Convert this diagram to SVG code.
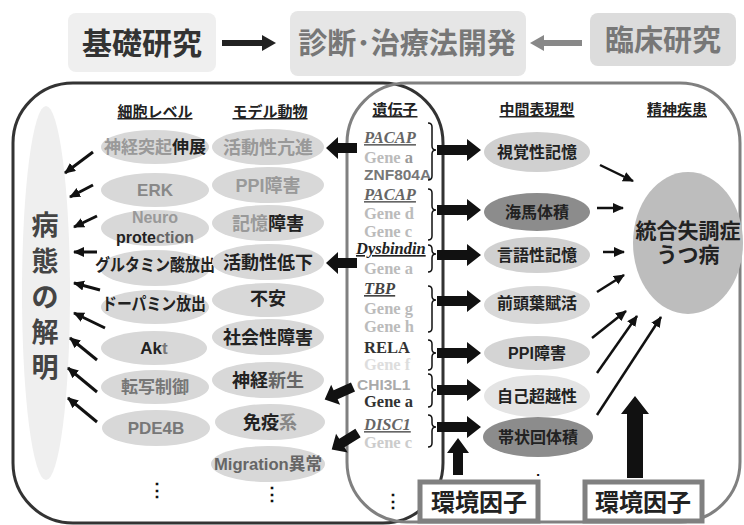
<svg xmlns="http://www.w3.org/2000/svg" xmlns:xlink="http://www.w3.org/1999/xlink" width="744" height="525" viewBox="0 0 744 525">
<style>
.t{font-family:'Liberation Sans','Noto Sans CJK JP',sans-serif;font-weight:bold;text-anchor:middle}
.g{font-family:'Liberation Serif','Noto Sans CJK JP',serif;font-weight:bold;font-size:16.5px}
.gs{font-family:'Liberation Sans',sans-serif;font-weight:bold;font-size:15.5px}
.it{font-style:italic;text-decoration:underline}
.hd{font-size:15px;fill:#222;text-decoration:underline}
.c1{font-size:17px}
.c2{font-size:18px}
.ph{font-size:16px;fill:#222}
.el{fill:#d8d8d8}
.thin{stroke:#111;stroke-width:3;fill:none}
.thin2{stroke:#111;stroke-width:2.5;fill:none}
.brace{stroke:#111;stroke-width:1.5;fill:none}
.blk{fill:#111}
.box{fill:#fff;stroke:#808080;stroke-width:5}
</style>
<defs>
<marker id="ah" markerUnits="userSpaceOnUse" markerWidth="12" markerHeight="12" refX="10" refY="5" orient="auto">
<path d="M0,0 L11,5 L0,10 Z" fill="#111"/>
</marker>
<path id="rarrow" d="M0,-5 H30 V-11 L44,0 L30,11 V5 H0 Z"/>
<path id="larrow" d="M0,-5 H-19 V-11 L-31,0 L-19,11 V5 H0 Z"/>
</defs>
<rect width="744" height="525" fill="#fff"/>

<!-- header -->
<g id="basic">
<rect x="68" y="13" width="148" height="59" rx="8" fill="#efefef"/>
<text class="t" x="142" y="54" font-size="30" fill="#333">基礎研究</text>
</g>
<g id="diag">
<rect x="290" y="11" width="236" height="65" rx="8" fill="#e6e6e6"/>
<text class="t" x="407" y="54" font-size="29" fill="#777">診断･治療法開発</text>
</g>
<g id="clinical">
<rect x="590" y="13" width="146" height="53" rx="8" fill="#dcdcdc"/>
<text class="t" x="663" y="51" font-size="29" fill="#777">臨床研究</text>
</g>

<!-- big frames -->
<g id="frames">
<rect x="13" y="83" width="430" height="440" rx="60" fill="none" stroke="#333" stroke-width="3"/>
<rect x="347" y="83" width="393" height="439" rx="60" fill="none" stroke="#808080" stroke-width="3"/>
</g>

<g id="pathology">
<ellipse cx="46" cy="293" rx="24" ry="187" fill="#efefef"/>
<text class="t" font-size="27" fill="#444" x="45"><tspan x="45" y="235">病</tspan><tspan x="45" y="271">態</tspan><tspan x="45" y="307">の</tspan><tspan x="45" y="342">解</tspan><tspan x="45" y="377">明</tspan></text>
</g>

<!-- column headers -->
<g id="headers">
<text class="t hd" x="155" y="117">細胞レベル</text>
<text class="t hd" x="270" y="117">モデル動物</text>
<text class="t hd" x="395" y="115">遺伝子</text>
<text class="t hd" x="537" y="115">中間表現型</text>
<text class="t hd" x="677" y="115">精神疾患</text>
</g>

<!-- cell level -->
<g id="cell1"><ellipse class="el" cx="155" cy="147" rx="54" ry="17"/><text class="t c1" x="155" y="153"><tspan fill="#999">神経突起</tspan><tspan fill="#222">伸展</tspan></text></g>
<g id="cell2"><ellipse class="el" cx="155" cy="190" rx="54" ry="17"/><text class="t c1" x="155" y="196" fill="#888">ERK</text></g>
<g id="cell3"><ellipse class="el" cx="155" cy="228" rx="54" ry="18"/><text class="t" font-size="16" x="155" y="223" fill="#999">Neuro</text><text class="t" font-size="16" x="155" y="243"><tspan fill="#222">prote</tspan><tspan fill="#666">ction</tspan></text></g>
<g id="cell4"><ellipse class="el" cx="155" cy="268" rx="55" ry="18"/><text class="t c1" x="155" y="271" fill="#222" textLength="120" lengthAdjust="spacingAndGlyphs">グルタミン酸放出</text></g>
<g id="cell5"><ellipse class="el" cx="155" cy="307" rx="54" ry="17"/><text class="t c1" x="154" y="310" fill="#222" textLength="104" lengthAdjust="spacingAndGlyphs">ドーパミン放出</text></g>
<g id="cell6"><ellipse class="el" cx="154" cy="348" rx="53" ry="17"/><text class="t c1" x="154" y="354"><tspan fill="#222">Ak</tspan><tspan fill="#777">t</tspan></text></g>
<g id="cell7"><ellipse class="el" cx="155" cy="387" rx="54" ry="17"/><text class="t c1" x="155" y="393" fill="#777">転写制御</text></g>
<g id="cell8"><ellipse class="el" cx="156" cy="428" rx="54" ry="18"/><text class="t c1" x="156" y="434" fill="#777">PDE4B</text></g>
<text class="t" x="157" y="496" font-size="18" fill="#111" font-family="DejaVu Sans">⋮</text>

<!-- model animals -->
<g id="m1"><ellipse class="el" cx="268" cy="147" rx="56" ry="18"/><text class="t c2" x="268" y="154" fill="#999">活動性亢進</text></g>
<g id="m2"><ellipse class="el" cx="268" cy="185" rx="56" ry="18"/><text class="t c2" x="268" y="192" fill="#999">PPI障害</text></g>
<g id="m3"><ellipse class="el" cx="268" cy="223" rx="56" ry="18"/><text class="t c2" x="268" y="230"><tspan fill="#999">記憶</tspan><tspan fill="#222">障害</tspan></text></g>
<g id="m4"><ellipse class="el" cx="268" cy="262" rx="56" ry="18"/><text class="t c2" x="268" y="269" fill="#222">活動性低下</text></g>
<g id="m5"><ellipse class="el" cx="268" cy="300" rx="56" ry="17"/><text class="t c2" x="268" y="305" fill="#222">不安</text></g>
<g id="m6"><ellipse class="el" cx="268" cy="337" rx="56" ry="18"/><text class="t c2" x="268" y="344" fill="#222">社会性障害</text></g>
<g id="m7"><ellipse class="el" cx="268" cy="380" rx="56" ry="18"/><text class="t c2" x="268" y="387"><tspan fill="#222">神経</tspan><tspan fill="#666">新生</tspan></text></g>
<g id="m8"><ellipse class="el" cx="270" cy="422" rx="55" ry="18"/><text class="t c2" x="270" y="429"><tspan fill="#222">免疫</tspan><tspan fill="#888">系</tspan></text></g>
<g id="m9"><ellipse class="el" cx="268" cy="464" rx="57" ry="18"/><text class="t" font-size="17" x="268" y="470" fill="#666" textLength="108" lengthAdjust="spacingAndGlyphs">Migration異常</text></g>
<text class="t" x="272" y="500" font-size="18" fill="#111" font-family="DejaVu Sans">⋮</text>

<!-- genes -->
<g id="genes">
<text class="g it" x="364" y="143" fill="#666">PACAP</text>
<text class="g" x="364" y="163"><tspan fill="#bbb">Gene </tspan><tspan fill="#999">a</tspan></text>
<text class="gs" x="364" y="180" fill="#777">ZNF804A</text>
<text class="g it" x="364" y="200" fill="#666">PACAP</text>
<text class="g" x="364" y="219" fill="#bbb">Gene  d</text>
<text class="g" x="364" y="237" fill="#bbb">Gene c</text>
<text class="g it" x="356" y="254" fill="#222">Dysbindin</text>
<text class="g" x="364" y="274" fill="#bbb">Gene a</text>
<text class="g it" x="364" y="294" fill="#444">TBP</text>
<text class="g" x="364" y="314" fill="#bbb">Gene g</text>
<text class="g" x="364" y="332" fill="#bbb">Gene  h</text>
<text class="g" x="364" y="353" fill="#333">RELA</text>
<text class="g" x="364" y="370" fill="#ddd">Gene  f</text>
<text class="gs" x="357" y="390" fill="#aaa">CHI3L1</text>
<text class="g" x="364" y="407" fill="#333">Gene a</text>
<text class="g it" x="364" y="430" fill="#666">DISC1</text>
<text class="g" x="364" y="448" fill="#ccc">Gene c</text>
<text class="t" x="393" y="507" font-size="18" fill="#111" font-family="DejaVu Sans">⋮</text>
</g>

<!-- braces -->
<g id="braces" class="brace">
<path d="M428,123 q4,0 4,4 V146 q0,4 4,4 q-4,0 -4,4 V176 q0,4 -4,4"/>
<path d="M428,189 q4,0 4,4 V206 q0,4 4,4 q-4,0 -4,4 V236 q0,4 -4,4"/>
<path d="M428,245 q4,0 4,4 V250 q0,4 4,4 q-4,0 -4,4 V268 q0,4 -4,4"/>
<path d="M428,286 q4,0 4,4 V296 q0,4 4,4 q-4,0 -4,4 V328 q0,4 -4,4"/>
<path d="M428,340 q4,0 4,4 V349 q0,4 4,4 q-4,0 -4,4 V366 q0,4 -4,4"/>
<path d="M428,374 q4,0 4,4 V386 q0,4 4,4 q-4,0 -4,4 V403 q0,4 -4,4"/>
<path d="M428,415 q4,0 4,4 V423 q0,4 4,4 q-4,0 -4,4 V443 q0,4 -4,4"/>
</g>

<!-- intermediate phenotypes -->
<g id="p1"><ellipse cx="537" cy="152" rx="53" ry="20" fill="#d0d0d0"/><text class="t ph" x="537" y="158">視覚性記憶</text></g>
<g id="p2"><ellipse cx="537" cy="212" rx="53" ry="19" fill="#8c8c8c"/><text class="t ph" x="537" y="218">海馬体積</text></g>
<g id="p3"><ellipse cx="537" cy="255" rx="53" ry="18" fill="#d0d0d0"/><text class="t ph" x="537" y="261">言語性記憶</text></g>
<g id="p4"><ellipse cx="537" cy="305" rx="53" ry="19" fill="#d8d8d8"/><text class="t ph" x="537" y="309">前頭葉賦活</text></g>
<g id="p5"><ellipse cx="537" cy="353" rx="53" ry="17" fill="#d4d4d4"/><text class="t ph" x="537" y="359">PPI障害</text></g>
<g id="p6"><ellipse cx="537" cy="396" rx="53" ry="21" fill="#e4e4e4"/><text class="t ph" x="537" y="402">自己超越性</text></g>
<g id="p7"><ellipse cx="538" cy="437" rx="55" ry="20" fill="#8c8c8c"/><text class="t ph" x="538" y="443">帯状回体積</text></g>
<text class="t" x="538" y="482" font-size="14" fill="#111">:</text>

<g id="disease">
<ellipse cx="688" cy="243" rx="55" ry="71" fill="#bdbdbd"/>
<text class="t" font-size="21" fill="#222" x="688" y="238">統合失調症</text>
<text class="t" font-size="21" fill="#222" x="688" y="262">うつ病</text>
</g>

<g id="env1"><rect class="box" x="420" y="482" width="118" height="39"/><text class="t" font-size="24" fill="#222" x="479" y="511">環境因子</text></g>
<g id="env2"><rect class="box" x="585" y="482" width="117" height="39"/><text class="t" font-size="24" fill="#222" x="643" y="511">環境因子</text></g>

<!-- connectors -->
<g id="connectors">
<path d="M222,40 H262 V35 L276,43 L262,51 V46 H222 Z" fill="#222"/>
<path d="M582,40 H544 V35 L530,43 L544,51 V46 H582 Z" fill="#888"/>

<g class="thin" marker-end="url(#ah)">
<line x1="93" y1="152" x2="65" y2="173"/>
<line x1="93" y1="185" x2="70" y2="197"/>
<line x1="97" y1="216" x2="74" y2="227"/>
<line x1="97" y1="252" x2="74" y2="252"/>
<line x1="100" y1="290" x2="74" y2="283"/>
<line x1="105" y1="328" x2="74" y2="313"/>
<line x1="97" y1="360" x2="70" y2="338"/>
<line x1="97" y1="392" x2="68" y2="368"/>
<line x1="97" y1="422" x2="68" y2="398"/>
</g>

<g class="blk">
<use xlink:href="#larrow" x="357" y="148"/>
<use xlink:href="#larrow" x="357" y="263"/>
<use xlink:href="#larrow" transform="translate(353,387) rotate(-24)"/>
<use xlink:href="#larrow" transform="translate(358,433) rotate(-32)"/>
<use xlink:href="#rarrow" x="437" y="150"/>
<use xlink:href="#rarrow" x="437" y="210"/>
<use xlink:href="#rarrow" x="437" y="255"/>
<use xlink:href="#rarrow" x="437" y="301"/>
<use xlink:href="#rarrow" x="437" y="353"/>
<use xlink:href="#rarrow" x="437" y="390"/>
<use xlink:href="#rarrow" x="437" y="427"/>
<path d="M453,475 V453 H447 L458,438 L469,453 H463 V475 Z"/>
<path d="M627,478 V414 H621 L635,396 L649,414 H643 V478 Z"/>
</g>

<g class="thin2" marker-end="url(#ah)">
<line x1="600" y1="165" x2="633" y2="181"/>
<line x1="597" y1="208" x2="623" y2="208"/>
<line x1="603" y1="252" x2="624" y2="252"/>
<line x1="597" y1="292" x2="624" y2="275"/>
<line x1="592" y1="338" x2="626" y2="311"/>
<line x1="597" y1="373" x2="637" y2="316"/>
<line x1="597" y1="415" x2="661" y2="317"/>
</g>
</g>
</svg>
